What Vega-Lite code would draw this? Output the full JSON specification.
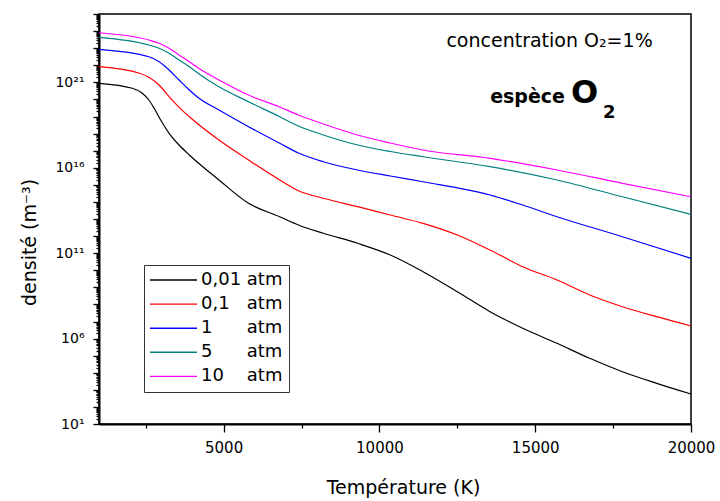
{
  "$schema": "https://vega.github.io/schema/vega-lite/v6.json",
  "width": 592,
  "height": 410,
  "autosize": {"type": "none"},
  "padding": {"left": 99, "top": 14, "right": 29, "bottom": 77},
  "background": "white",
  "config": {
    "view": {"stroke": "black", "strokeWidth": 1.5},
    "font": "DejaVu Sans",
    "axis": {"grid": false, "domainColor": "black", "tickColor": "black", "labelColor": "black", "titleColor": "black", "domainWidth": 2, "tickWidth": 1.3, "labelFont": "DejaVu Sans", "titleFont": "DejaVu Sans"}
  },
  "layer": [
    {
      "data": {"values": [
        {"p": "0,01", "T": 1000, "n": 8.8e20},
        {"p": "0,01", "T": 2070, "n": 4.48e20},
        {"p": "0,01", "T": 2390, "n": 2.28e20},
        {"p": "0,01", "T": 2600, "n": 9.25e19},
        {"p": "0,01", "T": 2770, "n": 3.02e19},
        {"p": "0,01", "T": 2980, "n": 6.24e18},
        {"p": "0,01", "T": 3250, "n": 1.04e18},
        {"p": "0,01", "T": 3570, "n": 2.15e17},
        {"p": "0,01", "T": 3900, "n": 5.57e16},
        {"p": "0,01", "T": 4850, "n": 1.92e15},
        {"p": "0,01", "T": 5800, "n": 8.3e13},
        {"p": "0,01", "T": 6800, "n": 1.36e13},
        {"p": "0,01", "T": 7400, "n": 4.46e12},
        {"p": "0,01", "T": 8200, "n": 1.46e12},
        {"p": "0,01", "T": 9300, "n": 3.78e11},
        {"p": "0,01", "T": 10350, "n": 7.8e10},
        {"p": "0,01", "T": 11400, "n": 8.2e9},
        {"p": "0,01", "T": 12500, "n": 5.55e8},
        {"p": "0,01", "T": 13550, "n": 3.75e7},
        {"p": "0,01", "T": 14600, "n": 4.0e6},
        {"p": "0,01", "T": 15700, "n": 5.3e5},
        {"p": "0,01", "T": 16750, "n": 7.0e4},
        {"p": "0,01", "T": 17800, "n": 1.15e4},
        {"p": "0,01", "T": 18900, "n": 2410},
        {"p": "0,01", "T": 20000, "n": 570},
        {"p": "0,1", "T": 1000, "n": 8.2e21},
        {"p": "0,1", "T": 2300, "n": 3.4e21},
        {"p": "0,1", "T": 2600, "n": 1.97e21},
        {"p": "0,1", "T": 2930, "n": 6.98e20},
        {"p": "0,1", "T": 3250, "n": 1.44e20},
        {"p": "0,1", "T": 3570, "n": 3.45e19},
        {"p": "0,1", "T": 3900, "n": 9.7e18},
        {"p": "0,1", "T": 4850, "n": 4.2e17},
        {"p": "0,1", "T": 5800, "n": 2.84e16},
        {"p": "0,1", "T": 6800, "n": 1.92e15},
        {"p": "0,1", "T": 7400, "n": 4.5e14},
        {"p": "0,1", "T": 8200, "n": 1.63e14},
        {"p": "0,1", "T": 9300, "n": 5.25e13},
        {"p": "0,1", "T": 10350, "n": 1.71e13},
        {"p": "0,1", "T": 11400, "n": 5.6e12},
        {"p": "0,1", "T": 12500, "n": 1.16e12},
        {"p": "0,1", "T": 13550, "n": 1.53e11},
        {"p": "0,1", "T": 14600, "n": 1.61e10},
        {"p": "0,1", "T": 15700, "n": 2.69e9},
        {"p": "0,1", "T": 16750, "n": 3.56e8},
        {"p": "0,1", "T": 17800, "n": 7.35e7},
        {"p": "0,1", "T": 18900, "n": 1.91e7},
        {"p": "0,1", "T": 20000, "n": 5.45e6},
        {"p": "1", "T": 1000, "n": 8.6e22},
        {"p": "1", "T": 2600, "n": 3.16e22},
        {"p": "1", "T": 2930, "n": 1.61e22},
        {"p": "1", "T": 3250, "n": 5.3e21},
        {"p": "1", "T": 3570, "n": 1.37e21},
        {"p": "1", "T": 3900, "n": 3.56e20},
        {"p": "1", "T": 4210, "n": 1.16e20},
        {"p": "1", "T": 4850, "n": 2.4e19},
        {"p": "1", "T": 5800, "n": 2.53e18},
        {"p": "1", "T": 6800, "n": 2.7e17},
        {"p": "1", "T": 7400, "n": 7.3e16},
        {"p": "1", "T": 8200, "n": 2.26e16},
        {"p": "1", "T": 9300, "n": 7.4e15},
        {"p": "1", "T": 10350, "n": 3.29e15},
        {"p": "1", "T": 11400, "n": 1.52e15},
        {"p": "1", "T": 13550, "n": 2.54e14},
        {"p": "1", "T": 14600, "n": 6.6e13},
        {"p": "1", "T": 15700, "n": 1.36e13},
        {"p": "1", "T": 17800, "n": 9.2e11},
        {"p": "1", "T": 20000, "n": 5.0e10},
        {"p": "5", "T": 1000, "n": 4.3e23},
        {"p": "5", "T": 2600, "n": 1.53e23},
        {"p": "5", "T": 2930, "n": 9.8e22},
        {"p": "5", "T": 3250, "n": 5.0e22},
        {"p": "5", "T": 3570, "n": 2.03e22},
        {"p": "5", "T": 3900, "n": 8.2e21},
        {"p": "5", "T": 4210, "n": 3.08e21},
        {"p": "5", "T": 4850, "n": 5.5e20},
        {"p": "5", "T": 5800, "n": 7.3e19},
        {"p": "5", "T": 6800, "n": 9.7e18},
        {"p": "5", "T": 7400, "n": 2.78e18},
        {"p": "5", "T": 8200, "n": 8.3e17},
        {"p": "5", "T": 9300, "n": 2.15e17},
        {"p": "5", "T": 10350, "n": 8.9e16},
        {"p": "5", "T": 11400, "n": 4.4e16},
        {"p": "5", "T": 13550, "n": 1.15e16},
        {"p": "5", "T": 15700, "n": 1.92e15},
        {"p": "5", "T": 17800, "n": 2.0e14},
        {"p": "5", "T": 20000, "n": 1.88e13},
        {"p": "10", "T": 1000, "n": 8.0e23},
        {"p": "10", "T": 2600, "n": 3.0e23},
        {"p": "10", "T": 2930, "n": 1.93e23},
        {"p": "10", "T": 3250, "n": 9.8e22},
        {"p": "10", "T": 3570, "n": 3.98e22},
        {"p": "10", "T": 3900, "n": 1.6e22},
        {"p": "10", "T": 4210, "n": 6.46e21},
        {"p": "10", "T": 4850, "n": 1.37e21},
        {"p": "10", "T": 5800, "n": 1.8e20},
        {"p": "10", "T": 6800, "n": 3.6e19},
        {"p": "10", "T": 7400, "n": 1.22e19},
        {"p": "10", "T": 8200, "n": 3.64e18},
        {"p": "10", "T": 9300, "n": 8.3e17},
        {"p": "10", "T": 10350, "n": 2.81e17},
        {"p": "10", "T": 11400, "n": 1.09e17},
        {"p": "10", "T": 13550, "n": 3.57e16},
        {"p": "10", "T": 15700, "n": 7.4e15},
        {"p": "10", "T": 17800, "n": 1.23e15},
        {"p": "10", "T": 20000, "n": 2.0e14}
      ]},
      "mark": {"type": "line", "interpolate": "monotone", "strokeWidth": 1.2},
      "encoding": {
        "x": {
          "field": "T", "type": "quantitative",
          "scale": {"domain": [1000, 20000], "nice": false, "zero": false},
          "axis": {
            "title": "Température (K)", "titleFontSize": 19, "titleFontWeight": "normal",
            "titleX": 304, "titleY": 69, "titleBaseline": "alphabetic",
            "values": [2500, 5000, 7500, 10000, 12500, 15000, 17500, 20000],
            "labelExpr": "datum.value % 5000 == 0 ? '' + datum.value : ''",
            "labelFontSize": 15, "labelBaseline": "alphabetic", "labelPadding": 20,
            "labelFlush": false, "labelOverlap": false,
            "tickSize": {"condition": {"test": "datum.value % 5000 == 0", "value": 8}, "value": 4}
          }
        },
        "y": {
          "field": "n", "type": "quantitative",
          "scale": {"type": "log", "domain": [10, 1e25], "nice": false},
          "axis": {
            "title": "densité (m⁻³)", "titleFontSize": 19, "titleFontWeight": "normal",
            "titleX": -64, "titleY": 228, "titleBaseline": "alphabetic",
            "tickCount": 300,
            "labelExpr": "abs(log(datum.value)/LN10-round(log(datum.value)/LN10))>0.001 ? '' : round(log(datum.value)/LN10)==1 ? '10¹' : round(log(datum.value)/LN10)==6 ? '10⁶' : round(log(datum.value)/LN10)==11 ? '10¹¹' : round(log(datum.value)/LN10)==16 ? '10¹⁶' : round(log(datum.value)/LN10)==21 ? '10²¹' : ''",
            "labelFontSize": 14, "labelPadding": 9, "labelFlush": false, "labelOverlap": false,
            "tickSize": {"condition": {"test": "abs(log(datum.value)/LN10-round(log(datum.value)/LN10))<0.001", "value": 6}, "value": 3}
          }
        },
        "color": {
          "field": "p", "type": "nominal",
          "scale": {"domain": ["0,01", "0,1", "1", "5", "10"], "range": ["#000000", "#ff0000", "#0000ff", "#008080", "#ff00ff"]},
          "legend": {
            "title": null, "orient": "none", "legendX": 45, "legendY": 251,
            "symbolType": "M-1,0H14.67", "symbolSize": 36, "symbolStrokeWidth": 1.4, "symbolOffset": -6,
            "labelFont": "DejaVu Sans", "labelFontSize": 18, "labelColor": "black", "labelOffset": 39,
            "labelExpr": "datum.label == '0,01' ? '0,01 atm' : datum.label == '0,1' ? '0,1\u00a0\u00a0\u00a0atm' : datum.label == '10' ? '10\u00a0\u00a0\u00a0\u00a0atm' : datum.label + '\u00a0\u00a0\u00a0\u00a0\u00a0\u00a0atm'",
            "strokeColor": "#333333", "fillColor": "white", "padding": 6, "rowPadding": 6.1
          }
        }
      }
    },
    {
      "data": {"values": [{"t": "concentration O₂=1%"}]},
      "mark": {"type": "text", "font": "DejaVu Sans", "fontSize": 19, "align": "center", "baseline": "alphabetic", "color": "black"},
      "encoding": {"text": {"field": "t"}, "x": {"datum": 15460, "type": "quantitative"}, "y": {"datum": 1.12e23, "type": "quantitative"}}
    },
    {
      "data": {"values": [{"t": "espèce"}]},
      "mark": {"type": "text", "font": "DejaVu Sans", "fontSize": 19, "fontWeight": "bold", "align": "right", "baseline": "alphabetic", "color": "black"},
      "encoding": {"text": {"field": "t"}, "x": {"datum": 15956, "type": "quantitative"}, "y": {"datum": 6.43e19, "type": "quantitative"}}
    },
    {
      "data": {"values": [{"t": "O"}]},
      "mark": {"type": "text", "font": "DejaVu Sans", "fontSize": 32, "fontWeight": "bold", "align": "left", "baseline": "alphabetic", "color": "black"},
      "encoding": {"text": {"field": "t"}, "x": {"datum": 16149, "type": "quantitative"}, "y": {"datum": 6.43e19, "type": "quantitative"}}
    },
    {
      "data": {"values": [{"t": "2"}]},
      "mark": {"type": "text", "font": "DejaVu Sans", "fontSize": 18, "fontWeight": "bold", "align": "left", "baseline": "alphabetic", "color": "black"},
      "encoding": {"text": {"field": "t"}, "x": {"datum": 17176, "type": "quantitative"}, "y": {"datum": 8.5e18, "type": "quantitative"}}
    }
  ]
}
